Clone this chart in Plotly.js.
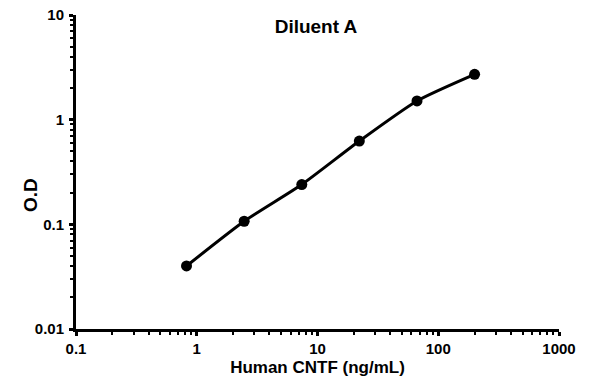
<!DOCTYPE html>
<html><head><meta charset="utf-8">
<script src="https://cdn.plot.ly/plotly-3.0.1.min.js"></script>
<style>body{margin:0;background:#fff}#c{width:595px;height:391px}</style>
</head><body><div id="c"></div>
<script>
const concentration = [0.823, 2.47, 7.41, 22.2, 66.7, 200];
const od = [0.040, 0.107, 0.24, 0.625, 1.51, 2.71];
const xTickVals = [0.1, 1, 10, 100, 1000];
const xTickText = ['0.1', '1', '10', '100', '1000'];
const yTickVals = [0.01, 0.1, 1, 10];
const yTickText = ['0.01', '0.1', '1', '10'];

function minorVals(lo, hi){const v=[];for(let d=lo; d<hi*0.999; d*=10){for(let k=2;k<=9;k++)v.push(d*k);}return v;}

const font = {family:'"Liberation Sans", Arial, sans-serif', color:'#000'};
const axisCommon = {
  type:'log', showgrid:false, zeroline:false, showline:true, linecolor:'#000', linewidth:3,
  ticks:'outside', ticklen:4, tickwidth:3, tickcolor:'#000',
  tickfont:{...font, size:15, weight:'bold'},
};
Plotly.newPlot('c', [{
  x: concentration, y: od, type:'scatter', mode:'lines+markers',
  line:{color:'#000', width:3, shape:'spline', smoothing:0.6},
  marker:{color:'#000', size:11},
  showlegend:false, hoverinfo:'skip'
}], {
  width:595, height:391, paper_bgcolor:'#fff', plot_bgcolor:'#fff',
  margin:{l:76, r:36, t:15, b:62},
  title:{text:'Diluent A', font:{...font, size:19, weight:'bold'}, x:(316-76)/483, xanchor:'center', xref:'paper', y:1-26/391, yanchor:'middle'},
  xaxis:{...axisCommon, range:[-1,3], tickvals:xTickVals, ticktext:xTickText,
    ticklabelstandoff:0,
    minor:{tickvals:minorVals(0.1,1000), ticks:'outside', ticklen:3, tickwidth:2, tickcolor:'#000'},
    title:{text:'Human CNTF (ng/mL)', font:{...font, size:17, weight:'bold'}, standoff:6}},
  yaxis:{...axisCommon, range:[-2,1], tickvals:yTickVals, ticktext:yTickText,
    ticklabelstandoff:2,
    minor:{tickvals:minorVals(0.01,10), ticks:'outside', ticklen:3, tickwidth:2, tickcolor:'#000'}},
  annotations:[{text:'<b>O.D</b>', textangle:-90, xref:'paper', yref:'paper',
    x:(30.5-76)/483, y:(329-195.5)/314, xanchor:'center', yanchor:'middle', showarrow:false,
    font:{...font, size:19}}]
}, {staticPlot:true, displayModeBar:false});
</script></body></html>
